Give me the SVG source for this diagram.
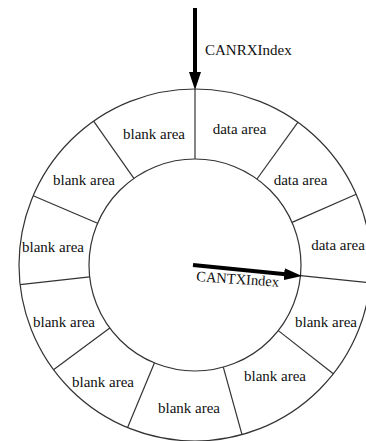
<svg xmlns="http://www.w3.org/2000/svg" width="366" height="441" viewBox="0 0 366 441">
<style>
.ring{fill:none;stroke:#333;stroke-width:1.2}
.div{stroke:#333;stroke-width:1.2}
.lbl{font-family:"Liberation Serif","Times New Roman",serif;font-size:15px;fill:#111;text-anchor:middle}
.ptr{font-family:"Liberation Serif","Times New Roman",serif;font-size:15px;fill:#111}
.arrow{stroke:#000;stroke-width:4;fill:none}
</style>
<defs>
<marker id="ah" markerUnits="userSpaceOnUse" markerWidth="18" markerHeight="12" viewBox="0 0 18 12" refX="4" refY="6" orient="auto">
<path d="M0,0 L18,6 L0,12 z" fill="#000"/>
</marker>
</defs>
<rect width="366" height="441" fill="#fff"/>
<g id="ring">
<circle class="ring" cx="195" cy="265" r="176"/>
<circle class="ring" cx="195" cy="265" r="106"/>
<line class="div" x1="195" y1="159" x2="195" y2="89"/>
<line class="div" x1="257" y1="179" x2="298" y2="122.2"/>
<line class="div" x1="292.1" y1="222.4" x2="356.2" y2="194.3"/>
<line class="div" x1="300.5" y1="275.7" x2="370.1" y2="282.8"/>
<line class="div" x1="278.3" y1="330.6" x2="333.3" y2="373.8"/>
<line class="div" x1="223.3" y1="367.1" x2="242" y2="434.6"/>
<line class="div" x1="154.4" y1="362.9" x2="127.6" y2="427.6"/>
<line class="div" x1="109.8" y1="328" x2="53.5" y2="369.7"/>
<line class="div" x1="89.7" y1="276.8" x2="20.1" y2="284.6"/>
<line class="div" x1="97.6" y1="223.2" x2="33.2" y2="195.7"/>
<line class="div" x1="133.9" y1="178.4" x2="93.6" y2="121.2"/>
</g>
<g id="seg1"><text class="lbl" x="239.5" y="134">data area</text></g>
<g id="seg2"><text class="lbl" x="300.5" y="185">data area</text></g>
<g id="seg3"><text class="lbl" x="338" y="250">data area</text></g>
<g id="seg4"><text class="lbl" x="326" y="327">blank area</text></g>
<g id="seg5"><text class="lbl" x="275" y="381">blank area</text></g>
<g id="seg6"><text class="lbl" x="189" y="413">blank area</text></g>
<g id="seg7"><text class="lbl" x="103" y="387">blank area</text></g>
<g id="seg8"><text class="lbl" x="64" y="327">blank area</text></g>
<g id="seg9"><text class="lbl" x="53" y="252">blank area</text></g>
<g id="seg10"><text class="lbl" x="84" y="185">blank area</text></g>
<g id="seg11"><text class="lbl" x="154" y="139">blank area</text></g>
<g id="connectors">
<line class="arrow" x1="195" y1="8" x2="195" y2="76" marker-end="url(#ah)"/>
<text class="ptr" x="205" y="55">CANRXIndex</text>
<line class="arrow" x1="193" y1="265" x2="288.1" y2="274.6" marker-end="url(#ah)"/>
<text class="ptr" transform="translate(196,281) rotate(4)" style="font-size:14.5px">CANTXIndex</text>
</g>
</svg>
